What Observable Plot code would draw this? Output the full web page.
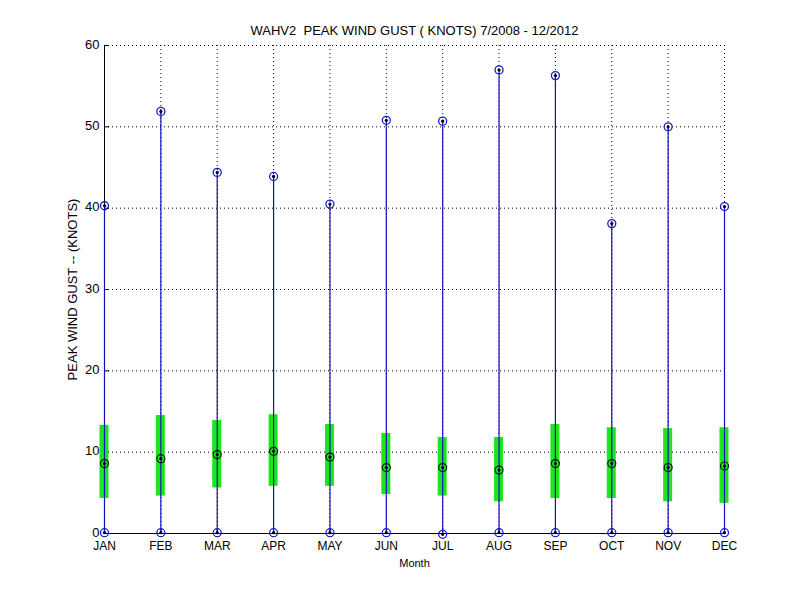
<!DOCTYPE html>
<html>
<head>
<meta charset="utf-8">
<script src="https://cdn.jsdelivr.net/npm/d3@7"></script>
<script src="https://cdn.jsdelivr.net/npm/@observablehq/plot@0.6"></script>
<style>
  html, body { margin: 0; padding: 0; background: #fff; }
  svg { display: block; }
</style>
</head>
<body>
<div id="chart"></div>
<script>
const months = ["JAN","FEB","MAR","APR","MAY","JUN","JUL","AUG","SEP","OCT","NOV","DEC"];
const maxV = [40.3, 51.9, 44.4, 43.9, 40.5, 50.8, 50.7, 57.0, 56.3, 38.1, 50.0, 40.2];
const minV = [0.1, 0.1, 0.1, 0.1, 0.1, 0.1, -0.1, 0.1, 0.1, 0.1, 0.1, 0.1];
const q1 = [4.3, 4.6, 5.6, 5.8, 5.8, 4.8, 4.6, 3.9, 4.3, 4.3, 3.9, 3.7];
const q3 = [13.3, 14.5, 13.9, 14.6, 13.4, 12.3, 11.8, 11.8, 13.4, 13.0, 12.9, 13.0];
const med = [8.6, 9.2, 9.7, 10.1, 9.4, 8.1, 8.1, 7.8, 8.6, 8.6, 8.1, 8.3];
const yTicks = [0, 10, 20, 30, 40, 50, 60];

const data = months.map((m, i) => ({
  m: i + 1, name: m, max: maxV[i], min: minV[i], q1: q1[i], q3: q3[i], med: med[i]
}));

const font = "Liberation Sans, Arial, Helvetica, sans-serif";
const blue = "#1212b8";
const markBlue = "#1a1ad0";

const chart = Plot.plot({
  width: 800,
  height: 600,
  marginLeft: 104,
  marginRight: 76,
  marginTop: 45,
  marginBottom: 67,
  style: { fontFamily: font, fontSize: "13px", color: "#000", background: "#fff", overflow: "visible" },
  x: { domain: [1, 12], ticks: d3.range(1, 13), tickFormat: d => months[d - 1], label: null },
  y: { domain: [0, 60], ticks: yTicks, label: null },
  marks: [
    // dotted grid
    Plot.gridY({ ticks: yTicks.slice(1), stroke: "#000", strokeOpacity: 1, strokeDasharray: "1,3", strokeWidth: 1 }),
    Plot.gridX({ ticks: d3.range(2, 13), stroke: "#000", strokeOpacity: 1, strokeDasharray: "1,3", strokeWidth: 1 }),
    // axes lines
    Plot.ruleX([1], { stroke: "#000", strokeWidth: 1 }),
    Plot.ruleY([0], { stroke: "#000", strokeWidth: 1 }),
    // inward tick marks
    Plot.axisY({ ticks: yTicks, tickSize: 5, dx: 5, tickFormat: () => "", stroke: "#000", label: null }),
    Plot.axisY({ ticks: yTicks, tickSize: 0, tickPadding: 5, fontSize: 13, fill: "#000", label: null, dy: -1 }),
    Plot.axisX({ ticks: d3.range(1, 13), tickSize: 5, dy: -5, tickFormat: () => "", stroke: "#000", label: null }),
    Plot.axisX({ ticks: d3.range(1, 13), tickSize: 0, tickPadding: 8, fontSize: 12, fill: "#000", tickFormat: d => months[d - 1], label: null }),
    // interquartile green bars
    Plot.rectY(data, { y1: "q1", y2: "q3", fill: "#1ee61e",
      x1: d => d.m - 0.08, x2: d => d.m + 0.08 }),
    // whiskers
    Plot.ruleX(data, { x: "m", y1: "min", y2: "max", stroke: blue, strokeWidth: 1.2 }),
    // max and min markers
    Plot.dot(data, { x: "m", y: "max", r: 4, stroke: markBlue, strokeWidth: 1.3, fill: "none" }),
    Plot.dot(data, { x: "m", y: "max", r: 1.6, fill: "#000" }),
    Plot.dot(data, { x: "m", y: "min", r: 4, stroke: markBlue, strokeWidth: 1.3, fill: "none" }),
    Plot.dot(data, { x: "m", y: "min", r: 1.6, fill: "#000" }),
    // median markers
    Plot.dot(data, { x: "m", y: "med", r: 4, stroke: "#111", strokeWidth: 1.2, fill: "none" }),
    Plot.dot(data, { x: "m", y: "med", r: 1.6, fill: "#000" }),
    // title and labels
    Plot.text(["WAHV2  PEAK WIND GUST ( KNOTS) 7/2008 - 12/2012"], { frameAnchor: "top", lineAnchor: "middle", textAnchor: "middle", dy: -15, fontSize: 13, fill: "#000" }),
    Plot.text(["Month"], { frameAnchor: "bottom", lineAnchor: "middle", textAnchor: "middle", dy: 30, fontSize: 11, fill: "#000" }),
    Plot.text(["PEAK WIND GUST -- (KNOTS)"], { frameAnchor: "left", lineAnchor: "middle", textAnchor: "middle", dx: -32, rotate: -90, fontSize: 13, fill: "#000" })
  ]
});
chart.querySelectorAll("text").forEach(t => t.setAttribute("xml:space", "preserve"));
chart.style.whiteSpace = "pre";
document.getElementById("chart").appendChild(chart);
</script>
</body>
</html>
